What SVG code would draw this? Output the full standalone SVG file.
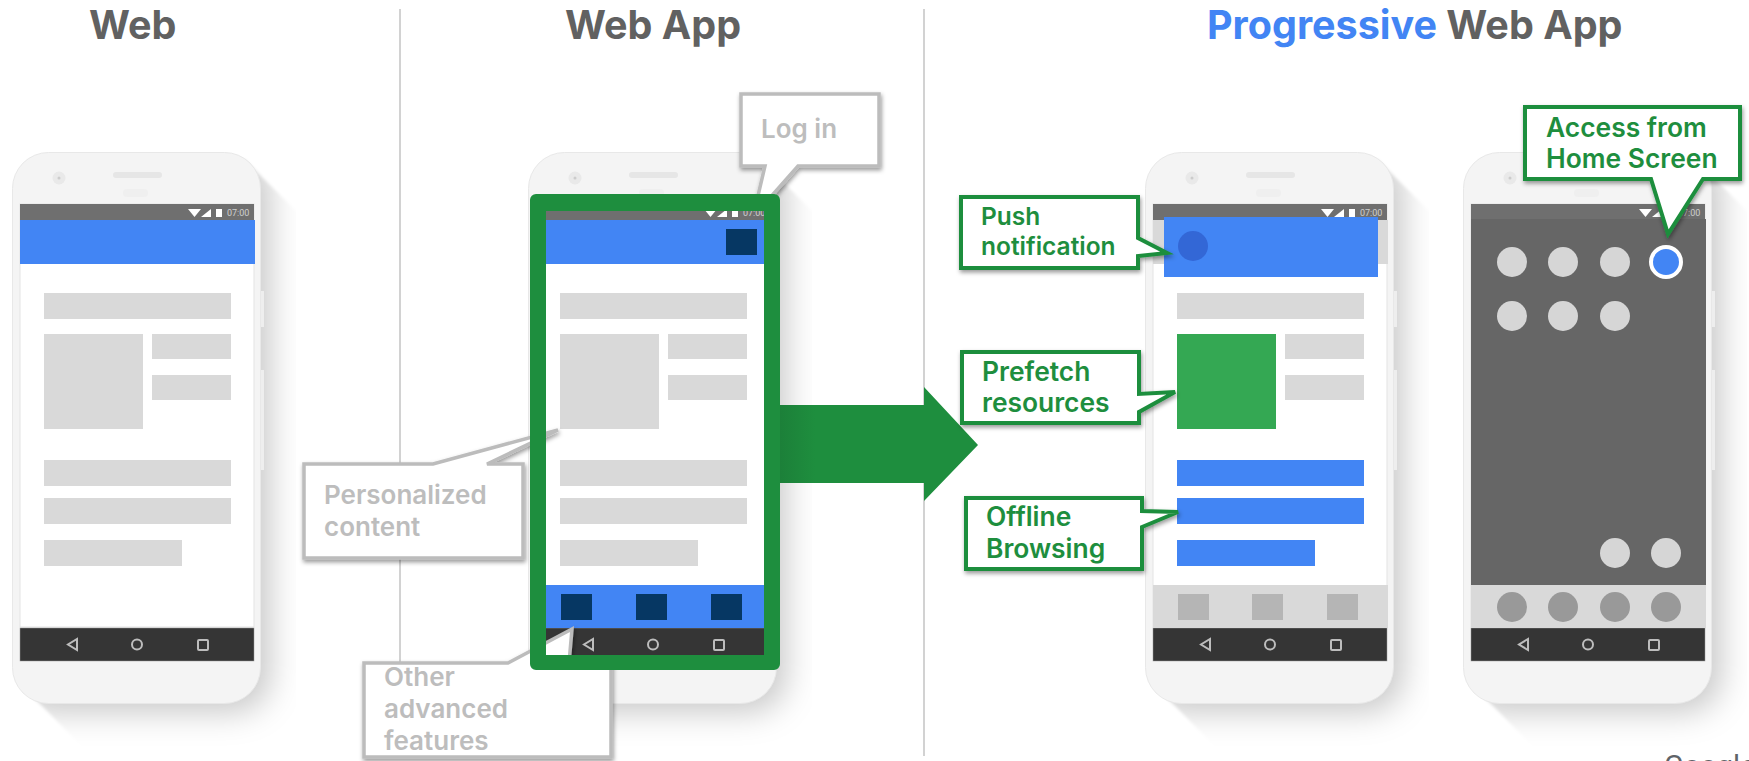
<svg xmlns="http://www.w3.org/2000/svg" xmlns:xlink="http://www.w3.org/1999/xlink" width="1749" height="761" viewBox="0 0 1749 761">
<style>
text{font-family:"Inter","Roboto","Liberation Sans",sans-serif;font-weight:600}
.title{font-size:39.500px;fill:#616161;font-weight:700}
.gt{font-size:26px;fill:#bdbdbd}
.ct{font-size:26.400px;fill:#1e8e3e}
.gc{fill:#fff;stroke:#bcbcbc;stroke-width:3.500;stroke-linejoin:miter;filter:url(#ds)}
.cc{fill:#fff;stroke:#1e8e3e;stroke-width:4;stroke-linejoin:miter;filter:url(#ds)}
.g{fill:#d9d9d9}.b{fill:#4285f4}.n{fill:#063763}.q{fill:#b5b5b5}.d{fill:#d6d6d6}.k{fill:#999}
.ic{fill:none;stroke:#bdbdbd;stroke-width:2}
.div{stroke:#d2d2d2;stroke-width:2}
</style>
<defs>
<filter id="ds" x="-20%" y="-20%" width="140%" height="140%"><feDropShadow dx="1" dy="2.500" stdDeviation="2" flood-color="#000" flood-opacity=".4"/></filter>
<filter id="soft" x="-10%" y="-10%" width="120%" height="120%"><feGaussianBlur stdDeviation="1.500"/></filter>
<filter id="wide" filterUnits="userSpaceOnUse" x="-100" y="50" width="500" height="800"><feGaussianBlur stdDeviation="16"/></filter>
<clipPath id="sweep"><path d="M245 160L310 225V755H91L28 692V160Z"/></clipPath>
<linearGradient id="ar" gradientUnits="userSpaceOnUse" x1="780" x2="815" y1="0" y2="0"><stop offset="0" stop-color="#1c8039"/><stop offset="1" stop-color="#1e8e3e"/></linearGradient>
<g id="phone">
<g filter="url(#soft)"><g clip-path="url(#sweep)"><rect x="12" y="152" width="258" height="560" rx="36" fill="#000" fill-opacity=".22" filter="url(#wide)"/></g></g>
<rect x="261" y="291" width="3" height="36" fill="#eee"/>
<rect x="261" y="370" width="3" height="100" fill="#eee"/>
<rect x="12.500" y="152.500" width="248" height="551" rx="36" fill="#f4f4f4" stroke="#e8e8e8"/>
<circle cx="59" cy="178" r="6.500" fill="#e9e9e9"/><circle cx="59" cy="178" r="1.500" fill="#ccc"/>
<rect x="113" y="172" width="49" height="6" rx="3" fill="#e6e6e6"/>
<rect x="123" y="189" width="25" height="8" rx="4" fill="#efefef"/>
<rect x="20" y="204" width="234" height="423" fill="#fff" stroke="#e3e3e3"/>
<rect x="20" y="204" width="234" height="16" fill="#6f6f6f"/>
<path d="M188 209H201L194.500 217ZM201 217L211 209V217ZM216 209H222V217H216Z" fill="#fff"/>
<text x="227" y="216" style="font-size:9px;font-weight:400;font-family:'Roboto',sans-serif" fill="#d0d0d0">07:00</text>
<rect x="20" y="628" width="234" height="33" fill="#353535" stroke="#999" stroke-width=".5"/>
<path class="ic" d="M77 639V650L68 644.500Z"/><circle class="ic" cx="137" cy="644.500" r="5"/><rect class="ic" x="198" y="640" width="10" height="10" rx="1"/>
</g>
<g id="rows">
<rect class="g" x="44" y="293" width="187" height="26"/>
<rect class="g" x="152" y="334" width="79" height="25"/>
<rect class="g" x="152" y="375" width="79" height="25"/>
</g>
</defs>
<rect width="1749" height="761" fill="#fff"/>
<g id="dividers"><line class="div" x1="400" y1="9" x2="400" y2="756"/><line class="div" x1="924" y1="9" x2="924" y2="756"/></g>
<g id="titles">
<text class="title" x="89" y="39">Web</text>
<text class="title" x="565" y="39">Web App</text>
<text class="title" x="1207" y="39"><tspan fill="#4285f4">Progressive</tspan> Web App</text>
</g>
<g id="phone-web">
<use xlink:href="#phone" href="#phone"/>
<rect class="b" x="20" y="220" width="235" height="44"/>
<use xlink:href="#rows" href="#rows"/>
<rect class="g" x="44" y="334" width="99" height="95"/>
<rect class="g" x="44" y="460" width="187" height="26"/><rect class="g" x="44" y="498" width="187" height="26"/><rect class="g" x="44" y="540" width="138" height="26"/>
</g>
<g id="phone-webapp" transform="translate(516 0)">
<use xlink:href="#phone" href="#phone"/>
<rect class="b" x="20" y="220" width="235" height="44"/>
<rect class="n" x="210" y="229" width="31" height="26"/>
<use xlink:href="#rows" href="#rows"/>
<rect class="g" x="44" y="334" width="99" height="95"/>
<rect class="g" x="44" y="460" width="187" height="26"/><rect class="g" x="44" y="498" width="187" height="26"/><rect class="g" x="44" y="540" width="138" height="26"/>
<rect class="b" x="20" y="585" width="235" height="43"/>
<rect class="n" x="45" y="594" width="31" height="26"/><rect class="n" x="120" y="594" width="31" height="26"/><rect class="n" x="195" y="594" width="31" height="26"/>
</g>
<g id="callout-login"><path class="gc" d="M741 94H879V166H798L768 200H757L765 166H741Z"/><text class="gt" x="761" y="138">Log in</text></g>
<g id="callout-personalized"><path class="gc" d="M304 464H433L558 430L487 464H523V558H304Z"/><text class="gt" x="324" y="504">Personalized</text><text class="gt" x="324" y="536">content</text></g>
<g id="callout-other"><path class="gc" d="M364 663H508L572 629L569 663H611V757H364Z"/><text class="gt" x="384" y="686">Other</text><text class="gt" x="384" y="718">advanced</text><text class="gt" x="384" y="750">features</text></g>
<g id="webapp-frame"><path fill="#1e8e3e" fill-rule="evenodd" d="M536 194H774A6 6 0 0 1 780 200V664A6 6 0 0 1 774 670H536A6 6 0 0 1 530 664V200A6 6 0 0 1 536 194ZM546 211V655H764V211Z"/></g>
<g id="connectors"><path fill="url(#ar)" d="M780 405H924V387L978 445L924 501V483H780Z"/></g>
<g id="phone-pwa" transform="translate(1133 0)">
<use xlink:href="#phone" href="#phone"/>
<rect class="g" x="20" y="220" width="235" height="44"/>
<use xlink:href="#rows" href="#rows"/>
<rect x="44" y="334" width="99" height="95" fill="#34a853"/>
<rect class="b" x="44" y="460" width="187" height="26"/><rect class="b" x="44" y="498" width="187" height="26"/><rect class="b" x="44" y="540" width="138" height="26"/>
<rect class="g" x="20" y="585" width="235" height="43"/>
<rect class="q" x="45" y="594" width="31" height="26"/><rect class="q" x="119" y="594" width="31" height="26"/><rect class="q" x="194" y="594" width="31" height="26"/>
<rect class="b" x="31" y="217" width="214" height="60"/>
<circle cx="60" cy="246" r="15" fill="#3367d6"/>
</g>
<g id="phone-home" transform="translate(1451 0)">
<use xlink:href="#phone" href="#phone"/>
<rect x="20" y="219" width="235" height="366" fill="#666"/>
<g class="d"><circle cx="61" cy="262" r="15"/><circle cx="112" cy="262" r="15"/><circle cx="164" cy="262" r="15"/><circle cx="61" cy="316" r="15"/><circle cx="112" cy="316" r="15"/><circle cx="164" cy="316" r="15"/><circle cx="164" cy="553" r="15"/><circle cx="215" cy="553" r="15"/></g>
<circle cx="215" cy="262" r="15" fill="#4285f4" stroke="#fff" stroke-width="4"/>
<rect class="g" x="20" y="585" width="235" height="43"/>
<g class="k"><circle cx="61" cy="607" r="15"/><circle cx="112" cy="607" r="15"/><circle cx="164" cy="607" r="15"/><circle cx="215" cy="607" r="15"/></g>
</g>
<g id="callout-push"><path class="cc" d="M961 197H1138V238L1167 253L1138 256V268H961Z"/><text class="ct" style="font-size:24.500px" x="981" y="225">Push</text><text class="ct" style="font-size:24.500px" x="981" y="255">notification</text></g>
<g id="callout-prefetch"><path class="cc" d="M962 352H1139V394L1175 392L1139 412V423H962Z"/><text class="ct" x="982" y="381">Prefetch</text><text class="ct" x="982" y="412">resources</text></g>
<g id="callout-offline"><path class="cc" d="M966 498H1142V511L1178 512L1142 527V569H966Z"/><text class="ct" x="986" y="526">Offline</text><text class="ct" x="986" y="558">Browsing</text></g>
<g id="callout-access"><path class="cc" d="M1525 107H1740V179H1703L1668 234L1651 179H1525Z"/><text class="ct" x="1546" y="136.500">Access from</text><text class="ct" x="1546" y="168">Home Screen</text></g>
<text x="1664" y="776" style="font-size:29px;font-weight:400;font-family:'Roboto',sans-serif" fill="#5f6368">Google</text>
</svg>
